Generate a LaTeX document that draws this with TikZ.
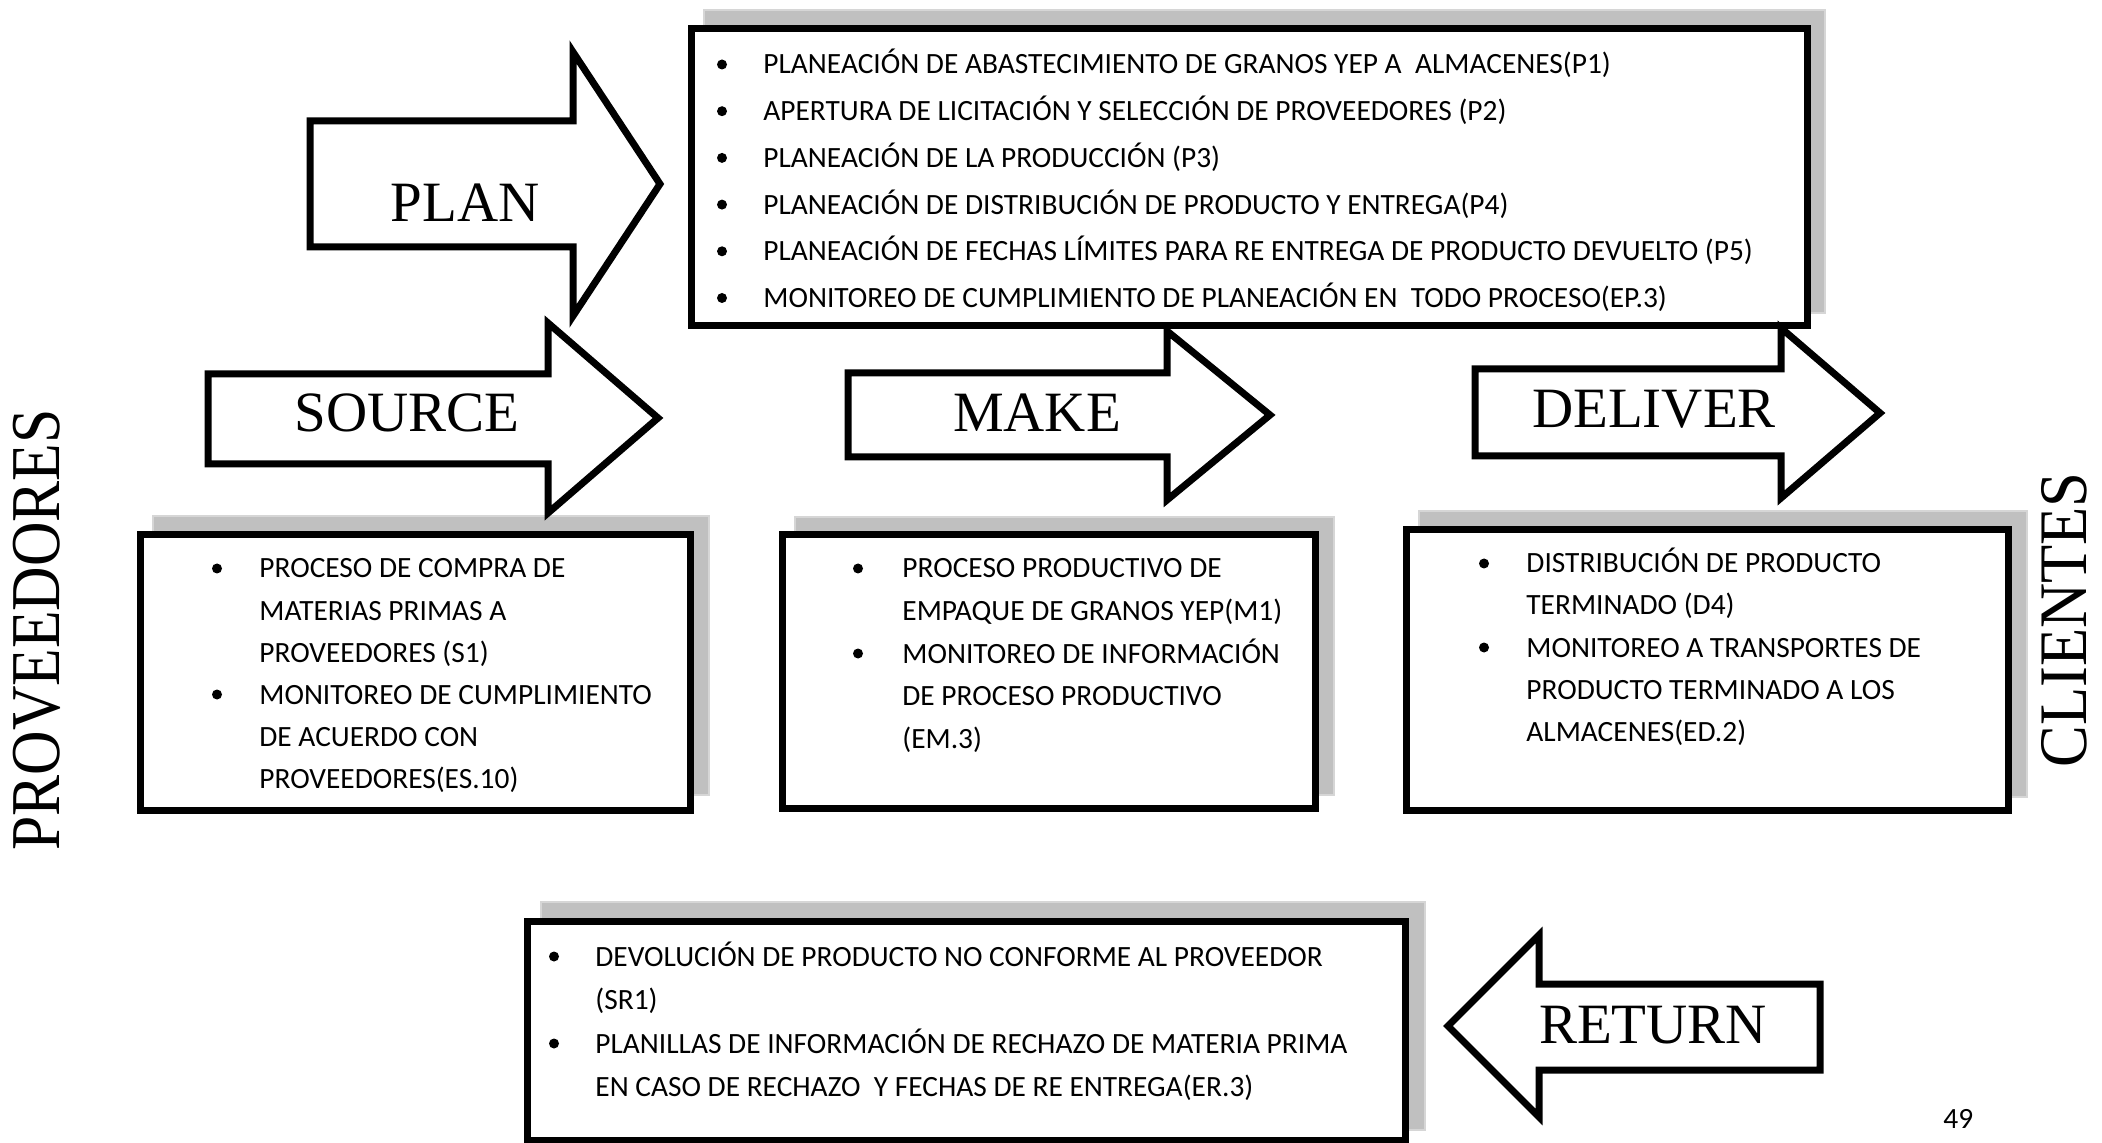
\documentclass[tikz,border=0pt]{standalone}
\usepackage{fontspec}
\setmainfont{Carlito}
\newfontfamily\headfont{Liberation Serif}
\definecolor{shadowgray}{RGB}{192,192,192}
\definecolor{shadowedge}{RGB}{214,214,214}
\tikzset{
  listbox/.style={draw=black, line width=3.5pt, fill=white},
  shadowbox/.style={fill=shadowgray, draw=shadowedge, line width=1pt},
  blockarrow/.style={draw=black, line width=3.5pt, fill=white, line join=miter, miter limit=10},
  headtxt/.style={font=\headfont\fontsize{28.5}{30}\selectfont, inner sep=0pt, anchor=base},
  sidetxt/.style={font=\headfont\fontsize{35}{36}\selectfont, inner sep=0pt, rotate=90},
  itemtext/.style={font=\fontsize{14.7}{17}\selectfont, inner sep=0pt, anchor=base west},
  dot/.style={circle, fill=black, inner sep=0pt, minimum size=5pt},
}
% #1 name prefix, #2 bullet x, #3 text x, #4 first baseline, #5 line step, #6 lines (flag/text)
\newcommand\bulletlist[6]{%
  \foreach \bflag/\itm [count=\i] in {#6}{%
    \node[itemtext] (#1-\i) at (#3,{#4+(\i-1)*#5}) {\itm};
    \ifnum\bflag=1 \node[dot] (#1-dot-\i) at (#2,{#4+(\i-1)*#5-9.5}) {};\fi
  }}
\begin{document}
\begin{tikzpicture}[x=0.5pt,y=-0.5pt]
\useasboundingbox (0,0) rectangle (2102,1143);
\fill[white] (0,0) rectangle (2102,1143);

% shadows behind the list boxes
\draw[shadowbox] (704,10) rectangle (1825,313);
\draw[shadowbox] (153,516) rectangle (709,795);
\draw[shadowbox] (795,517) rectangle (1334,795);
\draw[shadowbox] (1419,511) rectangle (2027,797);
\draw[shadowbox] (541,902) rectangle (1425,1130);

% list boxes
\draw[listbox] (691,29) rectangle (1807,326);
\draw[listbox] (140,535) rectangle (690,810);
\draw[listbox] (782,535) rectangle (1315,808);
\draw[listbox] (1406,530) rectangle (2008,810);
\draw[listbox] (527,921) rectangle (1405,1140);

% block arrows
\draw[blockarrow] (310,121) -- (573,121) -- (573,52) -- (660,184) -- (573,316) -- (573,247) -- (310,247) -- cycle;
\draw[blockarrow] (208,374) -- (548,374) -- (548,323) -- (658,418) -- (548,513) -- (548,464) -- (208,464) -- cycle;
\draw[blockarrow] (848,373) -- (1167,373) -- (1167,331) -- (1270,415) -- (1167,500) -- (1167,457) -- (848,457) -- cycle;
\draw[blockarrow] (1475,369) -- (1781,369) -- (1781,328) -- (1880,413) -- (1781,498) -- (1781,456) -- (1475,456) -- cycle;
\draw[blockarrow] (1820,984) -- (1539,984) -- (1539,935) -- (1448,1026) -- (1539,1117) -- (1539,1070) -- (1820,1070) -- cycle;

% arrow labels
\node[headtxt] (plan) at (465,222) {PLAN};
\node[headtxt] (source) at (407,432) {SOURCE};
\node[headtxt] (make) at (1037,432) {MAKE};
\node[headtxt] (deliver) at (1654,428) {DELIVER};
\node[headtxt] (return) at (1653,1043) {RETURN};

% side labels
\node[sidetxt] (prov) at (37,630) {\scalebox{0.88}[1]{PROVEEDORES}};
\node[sidetxt, font=\headfont\fontsize{34}{35}\selectfont] (cli) at (2064,620) {\scalebox{0.92}[1]{CLIENTES}};

% box contents
\bulletlist{plan}{722}{763}{74}{46.7}{%
  1/PLANEACIÓN DE ABASTECIMIENTO DE GRANOS YEP A~ ALMACENES(P1),
  1/APERTURA DE LICITACIÓN Y SELECCIÓN DE PROVEEDORES (P2),
  1/PLANEACIÓN DE LA PRODUCCIÓN (P3),
  1/PLANEACIÓN DE DISTRIBUCIÓN DE PRODUCTO Y ENTREGA(P4),
  1/PLANEACIÓN DE FECHAS LÍMITES PARA RE ENTREGA DE PRODUCTO DEVUELTO (P5),
  1/MONITOREO DE CUMPLIMIENTO DE PLANEACIÓN EN~ TODO PROCESO(EP.3)}

\bulletlist{src}{217}{259}{578}{42}{%
  1/PROCESO DE COMPRA DE,
  0/MATERIAS PRIMAS A,
  0/PROVEEDORES (S1),
  1/MONITOREO DE CUMPLIMIENTO,
  0/DE ACUERDO CON,
  0/PROVEEDORES(ES.10)}

\bulletlist{mk}{858}{902}{578}{42.5}{%
  1/PROCESO PRODUCTIVO DE,
  0/EMPAQUE DE GRANOS YEP(M1),
  1/MONITOREO DE INFORMACIÓN,
  0/DE PROCESO PRODUCTIVO,
  0/{(EM.3)}}

\bulletlist{dlv}{1484}{1526}{573}{42}{%
  1/DISTRIBUCIÓN DE PRODUCTO,
  0/TERMINADO (D4),
  1/MONITOREO A TRANSPORTES DE,
  0/PRODUCTO TERMINADO A LOS,
  0/ALMACENES(ED.2)}

\bulletlist{ret}{554}{595}{966}{43.5}{%
  1/DEVOLUCIÓN DE PRODUCTO NO CONFORME AL PROVEEDOR,
  0/{(SR1)},
  1/PLANILLAS DE INFORMACIÓN DE RECHAZO DE MATERIA PRIMA,
  0/EN CASO DE RECHAZO~ Y FECHAS DE RE ENTREGA(ER.3)}

% page number
\node[itemtext] (page) at (1943,1128) {49};
\end{tikzpicture}
\end{document}
